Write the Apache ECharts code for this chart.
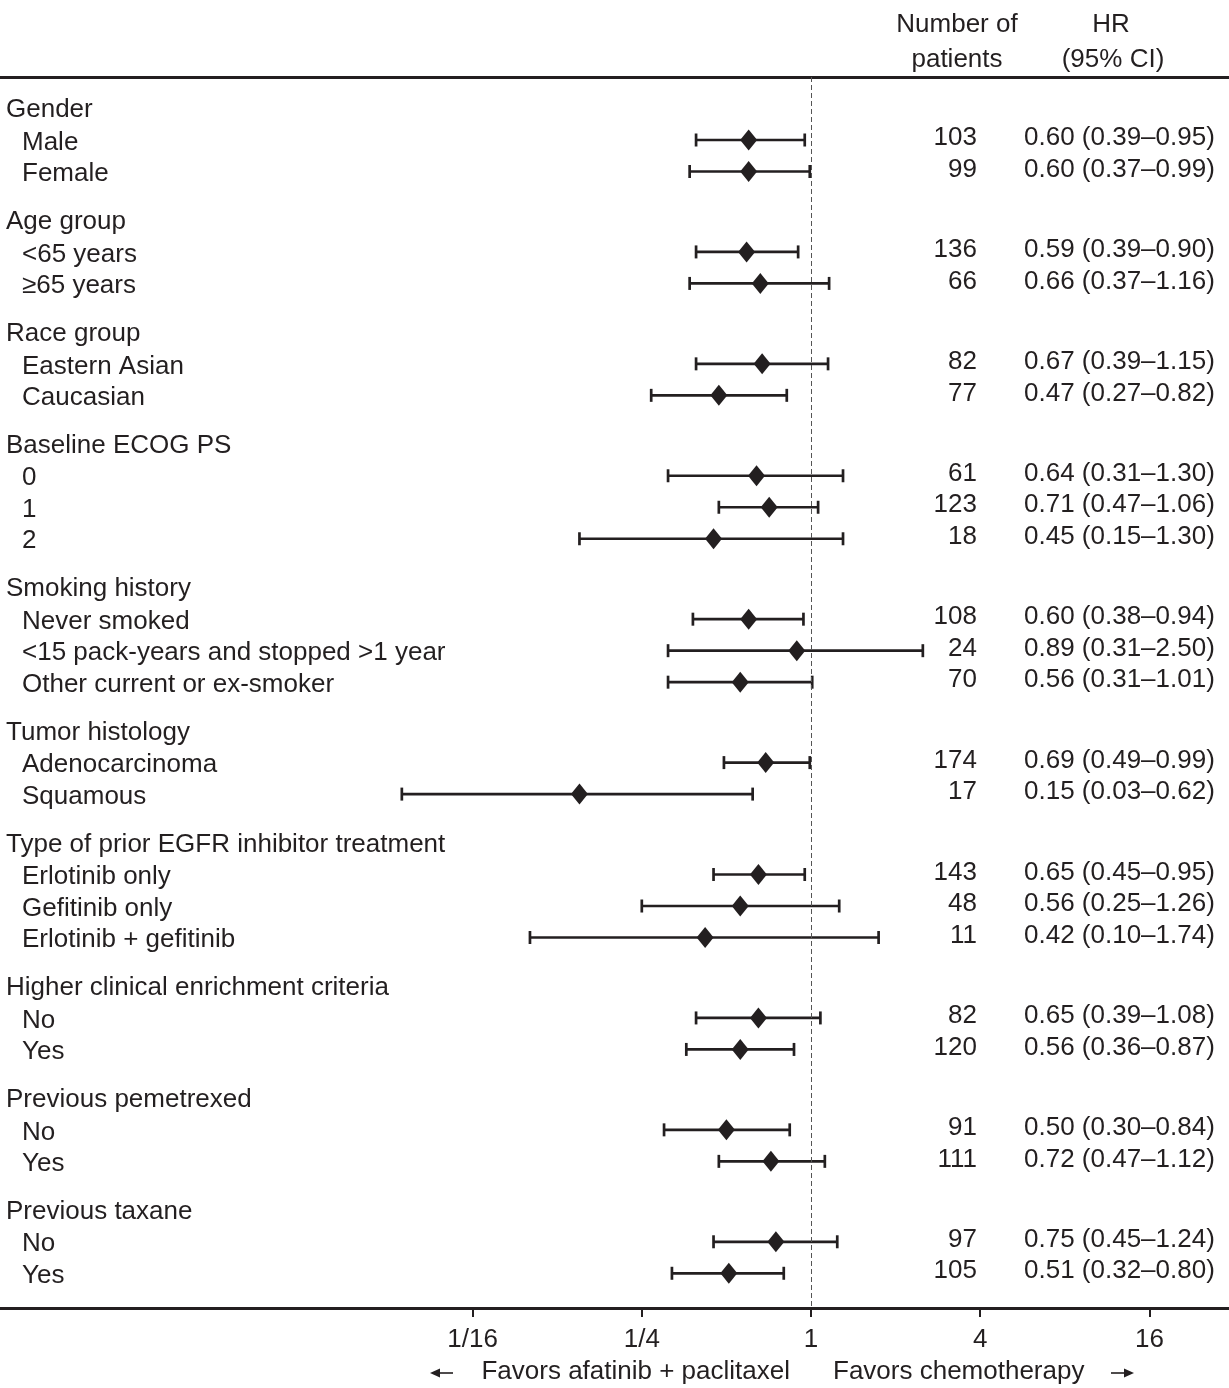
<!DOCTYPE html>
<html>
<head>
<meta charset="utf-8">
<title>Forest plot</title>
<script src="https://cdn.jsdelivr.net/npm/echarts@6/dist/echarts.min.js"></script>
<style>
  html, body { margin: 0; padding: 0; background: #fff; }
  #chart { width: 1229px; height: 1388px; }
</style>
</head>
<body>
<div id="chart"></div>
<script>
// 分组名称 / 每组子项数
const groupNames = [
  'Gender', 'Age group', 'Race group', 'Baseline ECOG PS', 'Smoking history',
  'Tumor histology', 'Type of prior EGFR inhibitor treatment',
  'Higher clinical enrichment criteria', 'Previous pemetrexed', 'Previous taxane'
];
const groupSizes = [2, 2, 2, 3, 3, 2, 3, 2, 2, 2];

// 子组
const subgroups = [
  'Male', 'Female',
  '<65 years', '≥65 years',
  'Eastern Asian', 'Caucasian',
  '0', '1', '2',
  'Never smoked', '<15 pack-years and stopped >1 year', 'Other current or ex-smoker',
  'Adenocarcinoma', 'Squamous',
  'Erlotinib only', 'Gefitinib only', 'Erlotinib + gefitinib',
  'No', 'Yes',
  'No', 'Yes',
  'No', 'Yes'
];
const patients = [103, 99, 136, 66, 82, 77, 61, 123, 18, 108, 24, 70, 174, 17, 143, 48, 11, 82, 120, 91, 111, 97, 105];
const hr = [0.60, 0.60, 0.59, 0.66, 0.67, 0.47, 0.64, 0.71, 0.45, 0.60, 0.89, 0.56, 0.69, 0.15, 0.65, 0.56, 0.42, 0.65, 0.56, 0.50, 0.72, 0.75, 0.51];
// squamous lower bound is drawn at ~0.035 in the picture (printed as 0.03)
const lower = [0.39, 0.37, 0.39, 0.37, 0.39, 0.27, 0.31, 0.47, 0.15, 0.38, 0.31, 0.31, 0.49, 0.035, 0.45, 0.25, 0.10, 0.39, 0.36, 0.30, 0.47, 0.45, 0.32];
const upper = [0.95, 0.99, 0.90, 1.16, 1.15, 0.82, 1.30, 1.06, 1.30, 0.94, 2.50, 1.01, 0.99, 0.62, 0.95, 1.26, 1.74, 1.08, 0.87, 0.84, 1.12, 1.24, 0.80];
const hrLabels = [
  '0.60 (0.39–0.95)', '0.60 (0.37–0.99)',
  '0.59 (0.39–0.90)', '0.66 (0.37–1.16)',
  '0.67 (0.39–1.15)', '0.47 (0.27–0.82)',
  '0.64 (0.31–1.30)', '0.71 (0.47–1.06)', '0.45 (0.15–1.30)',
  '0.60 (0.38–0.94)', '0.89 (0.31–2.50)', '0.56 (0.31–1.01)',
  '0.69 (0.49–0.99)', '0.15 (0.03–0.62)',
  '0.65 (0.45–0.95)', '0.56 (0.25–1.26)', '0.42 (0.10–1.74)',
  '0.65 (0.39–1.08)', '0.56 (0.36–0.87)',
  '0.50 (0.30–0.84)', '0.72 (0.47–1.12)',
  '0.75 (0.45–1.24)', '0.51 (0.32–0.80)'
];

// x轴刻度
const tickValues = [1 / 16, 1 / 4, 1, 4, 16];
const tickLabels = ['1/16', '1/4', '1', '4', '16'];

const FONT = "'Liberation Sans', Arial, Helvetica, sans-serif";
const FS = 26;
const INK = '#231f20';

// 行位置 (单位: 行)
const GAP = 1.553;
const headerRows = [];
const subRows = [];
let pos = 1;
groupSizes.forEach((n) => {
  headerRows.push(pos);
  for (let i = 0; i < n; i++) {
    pos += 1;
    subRows.push(pos);
  }
  pos += GAP;
});

const log2 = (v) => Math.log(v) / Math.LN2;
const X_MIN = -811 / 84.6;
const X_MAX = 418 / 84.6;

const chart = echarts.init(document.getElementById('chart'));

const textStyle = (text, x, y, align) => ({
  type: 'text',
  x: x,
  y: y,
  style: {
    text: text,
    fill: INK,
    font: FS + 'px ' + FONT,
    align: align || 'left',
    verticalAlign: 'middle'
  }
});

// 箭头: 横线 + 实心三角
const arrow = (x1, x2, y) => {
  const dir = x2 > x1 ? 1 : -1;
  return {
    type: 'group',
    children: [
      { type: 'line', shape: { x1: x1, y1: y, x2: x2 - dir * 8, y2: y }, style: { stroke: INK, lineWidth: 1.6 } },
      { type: 'polygon', shape: { points: [[x2, y], [x2 - dir * 10, y - 4.5], [x2 - dir * 10, y + 4.5]] }, style: { fill: INK } }
    ]
  };
};

const option = {
  animation: false,
  backgroundColor: '#fff',
  grid: { left: 0, right: 0, top: 77, height: 1231 },
  xAxis: [
    {
      type: 'value',
      min: X_MIN,
      max: X_MAX,
      position: 'bottom',
      splitLine: { show: false },
      axisLine: { show: true, onZero: false, lineStyle: { color: INK, width: 3 } },
      axisTick: {
        show: true,
        customValues: tickValues.map(log2),
        length: 9,
        lineStyle: { color: INK, width: 2 }
      },
      axisLabel: {
        customValues: tickValues.map(log2),
        margin: 19,
        color: INK,
        fontFamily: FONT,
        fontSize: FS,
        formatter: (v) => {
          const i = tickValues.findIndex((t) => Math.abs(log2(t) - v) < 1e-6);
          return i >= 0 ? tickLabels[i] : '';
        }
      }
    },
    {
      type: 'value',
      min: X_MIN,
      max: X_MAX,
      position: 'top',
      splitLine: { show: false },
      axisLine: { show: true, onZero: false, lineStyle: { color: INK, width: 3 } },
      axisTick: { show: false },
      axisLabel: { show: false }
    }
  ],
  yAxis: {
    type: 'value',
    min: 0,
    max: 1231 / 31.5,
    inverse: true,
    show: false
  },
  graphic: [
    textStyle('Number of', 957, 25, 'center'),
    textStyle('patients', 957, 60, 'center'),
    textStyle('HR', 1111, 25, 'center'),
    textStyle('(95% CI)', 1113, 60, 'center'),
    arrow(453, 430, 1373),
    textStyle('Favors afatinib + paclitaxel', 790, 1372, 'right'),
    textStyle('Favors chemotherapy', 833, 1372, 'left'),
    arrow(1111, 1134, 1373)
  ],
  series: [
    {
      // 森林图: 置信区间 + 菱形
      type: 'custom',
      clip: false,
      data: subgroups.map((s, i) => [log2(hr[i]), subRows[i], log2(lower[i]), log2(upper[i])]),
      encode: { x: [0, 2, 3], y: 1 },
      renderItem: (params, api) => {
        const c = api.coord([api.value(0), api.value(1)]);
        const lo = api.coord([api.value(2), api.value(1)]);
        const hi = api.coord([api.value(3), api.value(1)]);
        const ls = { stroke: INK, lineWidth: 2.7 };
        const capH = 6.5;
        return {
          type: 'group',
          children: [
            { type: 'line', shape: { x1: lo[0], y1: c[1], x2: hi[0], y2: c[1] }, style: ls },
            { type: 'line', shape: { x1: lo[0], y1: c[1] - capH, x2: lo[0], y2: c[1] + capH }, style: ls },
            { type: 'line', shape: { x1: hi[0], y1: c[1] - capH, x2: hi[0], y2: c[1] + capH }, style: ls },
            {
              type: 'polygon',
              shape: { points: [[c[0], c[1] - 10.5], [c[0] + 8.5, c[1]], [c[0], c[1] + 10.5], [c[0] - 8.5, c[1]]] },
              style: { fill: INK }
            }
          ]
        };
      },
      markLine: {
        silent: true,
        symbol: 'none',
        label: { show: false },
        lineStyle: { color: '#555', width: 1, type: [5, 3] },
        data: [{ xAxis: 0 }]
      },
      z: 3
    },
    {
      // 分组标题
      type: 'custom',
      clip: false,
      data: groupNames.map((g, i) => [0, headerRows[i]]),
      renderItem: (params, api) => {
        const y = api.coord([0, api.value(1)])[1];
        return textStyle(groupNames[params.dataIndex], 6, y + 1.5, 'left');
      }
    },
    {
      // 子组标签 + 人数 + HR
      type: 'custom',
      clip: false,
      data: subgroups.map((s, i) => [0, subRows[i]]),
      renderItem: (params, api) => {
        const i = params.dataIndex;
        const y = api.coord([0, api.value(1)])[1];
        return {
          type: 'group',
          children: [
            textStyle(subgroups[i], 22, y + 2.5, 'left'),
            textStyle(String(patients[i]), 977, y - 2, 'right'),
            textStyle(hrLabels[i], 1024, y - 2, 'left')
          ]
        };
      }
    }
  ]
};

chart.setOption(option);
</script>
</body>
</html>
